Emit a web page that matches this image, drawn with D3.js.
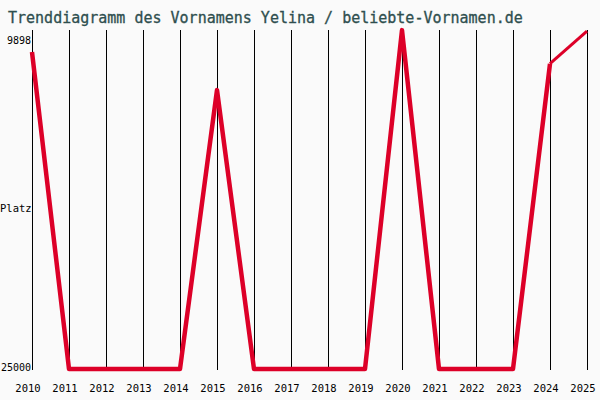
<!DOCTYPE html>
<html><head><meta charset="utf-8">
<script src="https://cdn.jsdelivr.net/npm/d3@7"></script>
<style>body{margin:0;background:#fafafa}</style></head>
<body><svg id="c" width="600" height="400"></svg>
<script>
const years=[2010,2011,2012,2013,2014,2015,2016,2017,2018,2019,2020,2021,2022,2023,2024,2025];
const ranks=[10360,25000,25000,25000,25000,12120,25000,25000,25000,25000,9350,25000,25000,25000,10900,9400];
const yTicks=[9898,25000];
const title="Trenddiagramm des Vornamens Yelina / beliebte-Vornamen.de";
const svg=d3.select("#c");
const font="DejaVu Sans Mono, monospace";
svg.append("rect").attr("width",600).attr("height",400).attr("fill","#fafafa");
const x=d3.scaleLinear().domain([2010,2025]).range([32,587]);
const y=d3.scaleLinear().domain([9898,25000]).range([42,369]);
svg.append("text").attr("x",8).attr("y",23).attr("font-family",font).attr("font-size",15).attr("fill","#2f4f4f").attr("stroke","#2f4f4f").attr("stroke-width",0.3).text(title);
svg.selectAll("line.v").data(years).enter().append("line").attr("x1",d=>x(d)+0.5).attr("x2",d=>x(d)+0.5).attr("y1",30).attr("y2",370).attr("stroke","#000").attr("stroke-width",1);
svg.selectAll("text.yr").data(years).enter().append("text").attr("x",d=>x(d)-4).attr("y",392).attr("text-anchor","middle").attr("font-family",font).attr("font-size",10.5).attr("fill","#000").text(d=>d);
svg.selectAll("text.yt").data(yTicks).enter().append("text").attr("x",31).attr("y",d=>y(d)+2).attr("text-anchor","end").attr("font-family",font).attr("font-size",10).attr("fill","#000").text(d=>d);
svg.append("text").attr("x",0).attr("y",212).attr("font-family",font).attr("font-size",10.5).attr("fill","#000").text("Platz");
const pts=years.map((d,i)=>[x(d),y(ranks[i])]);
const line=d3.line();
svg.append("path").attr("d",line(pts.slice(0,15))).attr("fill","none").attr("stroke","#dd0028").attr("stroke-width",4.5).attr("stroke-linejoin","round");
svg.append("path").attr("d",line(pts.slice(14))).attr("fill","none").attr("stroke","#dd0028").attr("stroke-width",3);
</script></body></html>
